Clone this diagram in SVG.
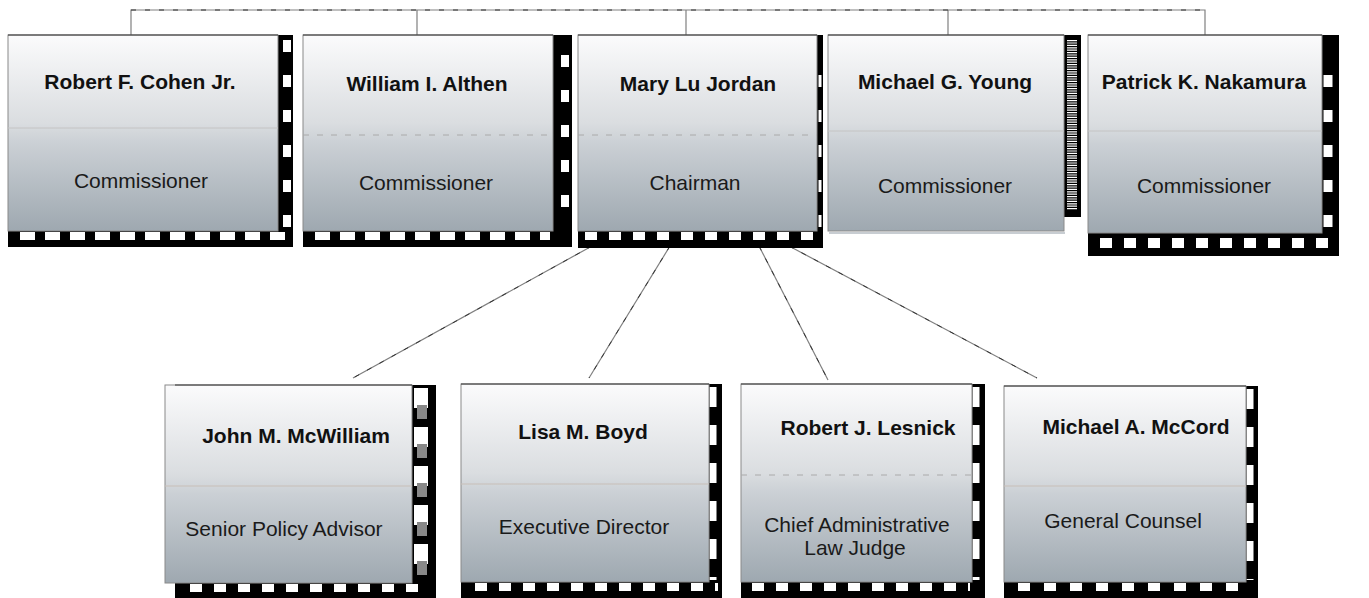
<svg xmlns="http://www.w3.org/2000/svg" width="1369" height="598" viewBox="0 0 1369 598">
<defs>
<linearGradient id="g" x1="0" y1="0" x2="0" y2="1">
<stop offset="0" stop-color="#fbfbfc"/>
<stop offset="0.45" stop-color="#dadde0"/>
<stop offset="0.55" stop-color="#cbd0d5"/>
<stop offset="1" stop-color="#9ea8b0"/>
</linearGradient>
</defs>
<style>
.box{fill:url(#g);stroke:#8a8a8a;stroke-width:1}
.top{stroke:#333;stroke-width:1.2}
.band{fill:#000}
.wv{stroke:#fff;stroke-width:8;stroke-dasharray:12 23}
.wh{stroke:#fff;stroke-width:8;stroke-dasharray:15 10}
.hatch{stroke:#fff;stroke-width:10;stroke-dasharray:1.2 1.2}
.mid{stroke:#c4c4c4;stroke-width:1}
.midd{stroke:#aaa;stroke-width:1;stroke-dasharray:6 8}
.name{font-family:"Liberation Sans",Arial,sans-serif;font-size:21px;font-weight:bold;fill:#111;text-anchor:middle}
.title{font-family:"Liberation Sans",Arial,sans-serif;font-size:21px;fill:#1a1a1a;text-anchor:middle}
.conn{stroke:#808080;stroke-width:1.2;fill:none}
.connd{stroke:#333;stroke-width:1;fill:none;stroke-dasharray:5 9}
</style>
<g id="connectors">
<path class="conn" d="M131 35V10H1205V35M417 10V35M686 10V35M948 10V35"/>
<path class="connd" d="M131 10H1205"/>
<line class="conn" x1="592" y1="246" x2="353" y2="378"/>
<line class="conn" x1="670" y1="246" x2="589" y2="378"/>
<line class="conn" x1="759" y1="246" x2="828" y2="380"/>
<line class="conn" x1="789" y1="246" x2="1037" y2="378"/>
<line class="connd" x1="592" y1="246" x2="353" y2="378"/>
<line class="connd" x1="670" y1="246" x2="589" y2="378"/>
<line class="connd" x1="759" y1="246" x2="828" y2="380"/>
<line class="connd" x1="789" y1="246" x2="1037" y2="378"/>
</g>
<g id="n1">
<rect class="band" x="278" y="35" width="15" height="212"/>
<rect class="band" x="8" y="231" width="285" height="16"/>
<line class="wv" x1="287" y1="40" x2="287" y2="228"/>
<line class="wh" x1="20" y1="236" x2="285" y2="236"/>
<rect class="box" x="8" y="35" width="270" height="196"/>
<line class="top" x1="8" y1="35" x2="278" y2="35"/>
<line class="mid" x1="8" y1="128" x2="278" y2="128"/>
<text class="name" x="140" y="89">Robert F. Cohen Jr.</text>
<text class="title" x="141" y="188">Commissioner</text>
</g>
<g id="n2">
<rect class="band" x="553" y="35" width="19" height="212"/>
<rect class="band" x="303" y="231" width="269" height="16"/>
<line class="wv" x1="565" y1="55" x2="565" y2="228"/>
<line class="wh" x1="315" y1="236" x2="550" y2="236"/>
<rect class="box" x="303" y="35" width="250" height="196"/>
<line class="top" x1="303" y1="35" x2="553" y2="35"/>
<line class="midd" x1="303" y1="135" x2="553" y2="135"/>
<text class="name" x="427" y="91">William I. Althen</text>
<text class="title" x="426" y="190">Commissioner</text>
</g>
<g id="n3">
<rect class="band" x="817" y="35" width="6" height="213"/>
<rect class="band" x="578" y="231" width="245" height="17"/>
<line class="wv" x1="820" y1="75" x2="820" y2="228" style="stroke-width:3"/>
<line class="wh" x1="585" y1="236" x2="815" y2="236" style="stroke-dasharray:12 12"/>
<rect class="box" x="578" y="35" width="239" height="196"/>
<line class="top" x1="578" y1="35" x2="817" y2="35"/>
<line class="midd" x1="578" y1="135" x2="817" y2="135"/>
<text class="name" x="698" y="91">Mary Lu Jordan</text>
<text class="title" x="695" y="190">Chairman</text>
</g>
<g id="n4">
<rect class="band" x="1064" y="35" width="17" height="182"/>
<line class="hatch" x1="1072" y1="40" x2="1072" y2="210"/>
<rect x="829" y="232" width="236" height="2" fill="#c8cdd2"/>
<rect class="box" x="828" y="35" width="236" height="196"/>
<line class="top" x1="828" y1="35" x2="1064" y2="35"/>
<line class="mid" x1="828" y1="131" x2="1064" y2="131"/>
<text class="name" x="945" y="89">Michael G. Young</text>
<text class="title" x="945" y="193">Commissioner</text>
</g>
<g id="n5">
<rect class="band" x="1322" y="35" width="17" height="221"/>
<rect class="band" x="1088" y="233" width="251" height="23"/>
<line class="wv" x1="1328" y1="75" x2="1328" y2="232" style="stroke-width:9"/>
<line class="wh" x1="1100" y1="243" x2="1330" y2="243" style="stroke-dasharray:12 12;stroke-width:10"/>
<rect class="box" x="1088" y="35" width="234" height="198"/>
<line class="top" x1="1088" y1="35" x2="1322" y2="35"/>
<line class="mid" x1="1088" y1="131" x2="1322" y2="131"/>
<text class="name" x="1204" y="89">Patrick K. Nakamura</text>
<text class="title" x="1204" y="193">Commissioner</text>
</g>
<g id="n6">
<rect class="band" x="412" y="385" width="24" height="213"/>
<rect class="band" x="175" y="583" width="261" height="15"/>
<line class="wv" x1="421" y1="388" x2="421" y2="583" style="stroke-width:14;stroke-dasharray:20 19"/>
<line class="hatch" x1="422" y1="405" x2="422" y2="580" style="stroke:#888;stroke-dasharray:14 25"/>
<line class="wh" x1="190" y1="588" x2="430" y2="588" style="stroke-dasharray:12 12"/>
<rect class="box" x="165" y="385" width="247" height="198"/>
<line class="top" x1="175" y1="385" x2="412" y2="385"/>
<line class="mid" x1="165" y1="486" x2="412" y2="486" style="stroke:#c8bfb8"/>
<text class="name" x="296" y="443">John M. McWilliam</text>
<text class="title" x="284" y="536">Senior Policy Advisor</text>
</g>
<g id="n7">
<rect class="band" x="709" y="384" width="13" height="214"/>
<rect class="band" x="461" y="582" width="261" height="16"/>
<line class="wv" x1="713" y1="387" x2="713" y2="580" style="stroke-width:7;stroke-dasharray:20 18"/>
<line class="wh" x1="475" y1="587" x2="718" y2="587" style="stroke-dasharray:12 12"/>
<rect class="box" x="461" y="384" width="248" height="198"/>
<line class="top" x1="461" y1="384" x2="709" y2="384"/>
<line class="mid" x1="461" y1="484" x2="709" y2="484" style="stroke:#c8bfb8"/>
<text class="name" x="583" y="439">Lisa M. Boyd</text>
<text class="title" x="584" y="534">Executive Director</text>
</g>
<g id="n8">
<rect class="band" x="972" y="384" width="13" height="214"/>
<rect class="band" x="741" y="582" width="244" height="16"/>
<line class="wv" x1="976" y1="387" x2="976" y2="580" style="stroke-width:7;stroke-dasharray:20 18"/>
<line class="wh" x1="752" y1="587" x2="970" y2="587" style="stroke-dasharray:12 12"/>
<rect class="box" x="741" y="384" width="231" height="198"/>
<line class="top" x1="741" y1="384" x2="972" y2="384"/>
<line class="midd" x1="741" y1="475" x2="972" y2="475"/>
<text class="name" x="868" y="435">Robert J. Lesnick</text>
<text class="title" x="857" y="532">Chief Administrative</text>
<text class="title" x="855" y="555">Law Judge</text>
</g>
<g id="n9">
<rect class="band" x="1246" y="386" width="12" height="212"/>
<rect class="band" x="1004" y="582" width="254" height="16"/>
<line class="wv" x1="1250" y1="389" x2="1250" y2="580" style="stroke-width:7;stroke-dasharray:20 18"/>
<line class="wh" x1="1018" y1="587" x2="1240" y2="587" style="stroke-dasharray:12 14"/>
<rect class="box" x="1004" y="386" width="242" height="196"/>
<line class="top" x1="1004" y1="386" x2="1246" y2="386"/>
<line class="mid" x1="1004" y1="486" x2="1246" y2="486" style="stroke:#c8bfb8"/>
<text class="name" x="1136" y="434">Michael A. McCord</text>
<text class="title" x="1123" y="528">General Counsel</text>
</g>
</svg>
